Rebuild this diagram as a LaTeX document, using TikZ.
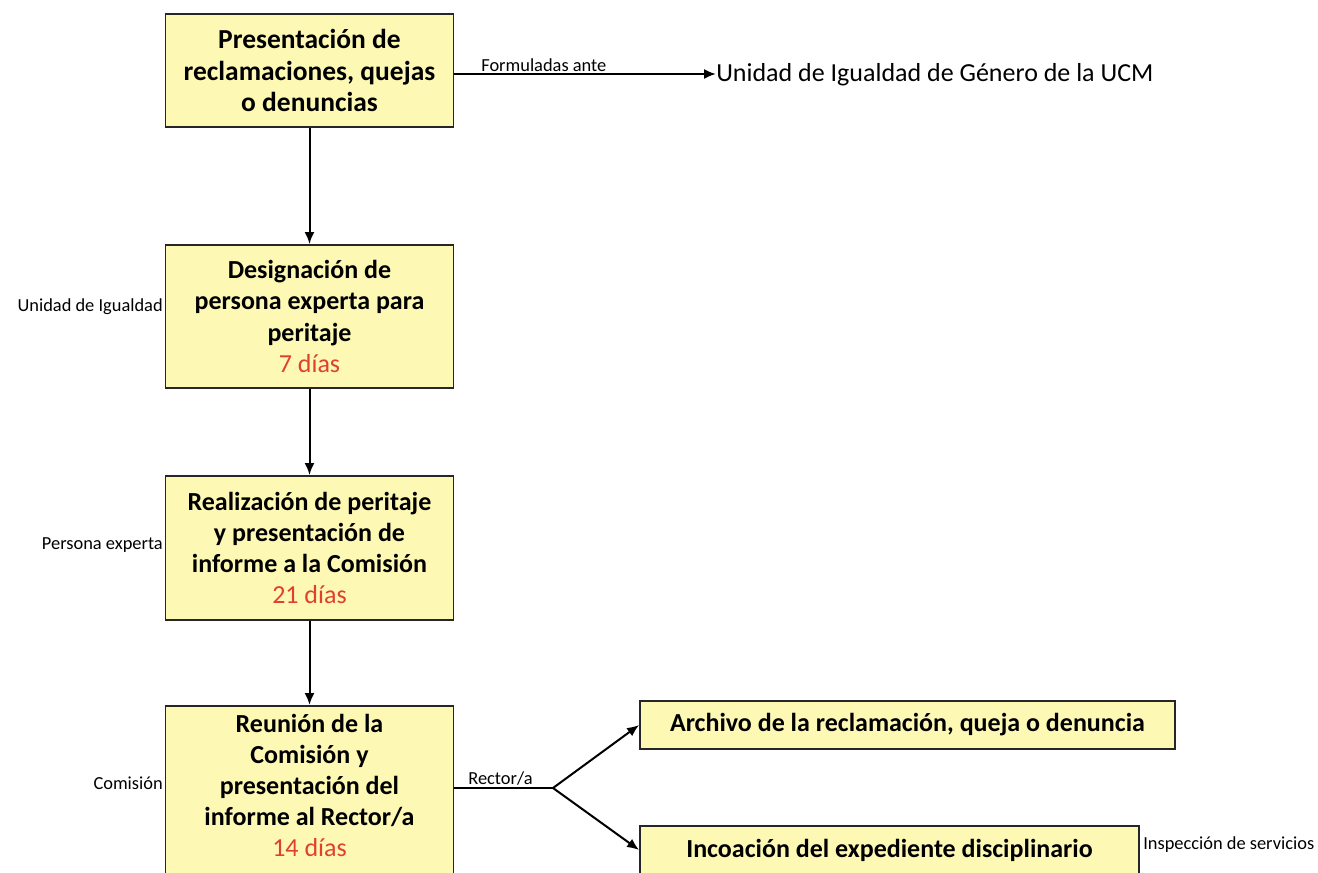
\documentclass[tikz,border=0pt]{standalone}
\usepackage{fontspec}
\setmainfont{Carlito}
\usepackage{tikz}
\usetikzlibrary{arrows}
\usetikzlibrary{arrows.meta}
\definecolor{boxfill}{HTML}{FDF8B4}
\definecolor{diascolor}{HTML}{E0402F}

\begin{document}
\begin{tikzpicture}[x=0.75pt,y=-0.75pt,
  paso/.style={draw=black!85,line width=1.4pt,fill=boxfill,align=center,inner sep=0pt,
    font=\fontsize{19.5}{23.3}\selectfont\bfseries},
  flecha/.style={black,line width=1.5pt,-{Latex[length=9pt,width=7.5pt]}},
  rama/.style={black,line width=1.5pt},
  quien/.style={anchor=east,inner sep=0pt,font=\fontsize{13.8}{15}\selectfont},
  nota/.style={anchor=south west,inner sep=1pt,font=\fontsize{13.8}{15}\selectfont}]
  \clip (0,0) rectangle (1318,873);
  \fill[white] (0,0) rectangle (1318,873);
%% column of steps
  \node[paso,minimum width=216pt,minimum height=84.75pt,font=\fontsize{20.6}{23.3}\selectfont\bfseries] (pres) at (309.5,70.5)
    {Presentación de\\reclamaciones, quejas\\o denuncias};
  \node[paso,minimum width=216pt,minimum height=107.25pt] (desig) at (309.5,316.5)
    {Designación de\\persona experta para\\peritaje\\{\mdseries\color{diascolor}7 días}};
  \node[paso,minimum width=216pt,minimum height=108pt] (perit) at (309.5,548)
    {Realización de peritaje\\y presentación de\\informe a la Comisión\\{\mdseries\color{diascolor}21 días}};
  \node[paso,minimum width=216pt,minimum height=142.5pt,anchor=north] (reun) at (309.5,705)
    {Reunión de la\\Comisión y\\presentación del\\informe al Rector/a\\{\mdseries\color{diascolor}14 días}\\\mbox{}};
%% outcomes
  \node[paso,minimum width=401.25pt,minimum height=36pt] (arch) at (907.5,725)
    {Archivo de la reclamación, queja o denuncia};
  \node[paso,minimum width=374.25pt,minimum height=36pt] (incoa) at (889.5,850)
    {Incoación del expediente disciplinario};
  \node[anchor=west,inner sep=0pt,font=\fontsize{19.5}{23}\selectfont] (ucm) at (716,75)
    {Unidad de Igualdad de Género de la UCM};
%% who does each step
  \node[quien] (q1) at (163,307) {Unidad de Igualdad};
  \node[quien] (q2) at (163,545) {Persona experta};
  \node[quien] (q3) at (163,783) {Comisión};
  \node[anchor=west,inner sep=0pt,font=\fontsize{13.8}{15}\selectfont] (q4) at (1143,845) {Inspección de servicios};
  \coordinate (fork) at (553,788);
%% connectors
  \draw[flecha] (pres.east |- 0,74) -- (ucm.west |- 0,74)
    node[nota] at (479,74) {Formuladas ante};
  \foreach \a/\b in {pres/desig, desig/perit, perit/reun}
    \draw[flecha] (\a) -- (\b);
  \draw[rama] (reun.east |- fork) -- (fork) node[nota] at (466,788) {Rector/a};
  \draw[flecha] (fork) -- (arch.west);
  \draw[flecha] (fork) -- (incoa.west);
\end{tikzpicture}
\end{document}
